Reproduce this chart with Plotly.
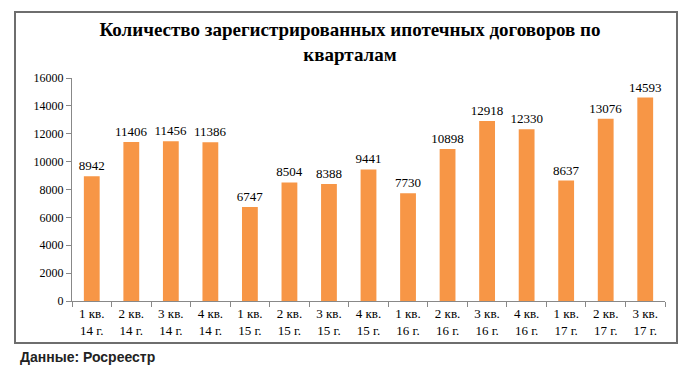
import plotly.graph_objects as go

categories = ["1 кв.<br>14 г.", "2 кв.<br>14 г.", "3 кв.<br>14 г.", "4 кв.<br>14 г.",
              "1 кв.<br>15 г.", "2 кв.<br>15 г.", "3 кв.<br>15 г.", "4 кв.<br>15 г.",
              "1 кв.<br>16 г.", "2 кв.<br>16 г.", "3 кв.<br>16 г.", "4 кв.<br>16 г.",
              "1 кв.<br>17 г.", "2 кв.<br>17 г.", "3 кв.<br>17 г."]
values = [8942, 11406, 11456, 11386, 6747, 8504, 8388, 9441, 7730, 10898, 12918, 12330, 8637, 13076, 14593]
y_ticks = [0, 2000, 4000, 6000, 8000, 10000, 12000, 14000, 16000]
y_tick_labels = [str(v) for v in y_ticks]

serif = "Liberation Serif, Times New Roman, serif"

fig = go.Figure(go.Bar(
    x=categories, y=values,
    marker=dict(color="#F79646", line=dict(width=0)),
    text=[str(v) for v in values], textposition="outside",
    outsidetextfont=dict(family=serif, size=13, color="#000"),
    textfont=dict(family=serif, size=13, color="#000"),
    constraintext="none",
    cliponaxis=False, width=0.4,
))

# page body has an 8px margin; compensate so the rendered page matches
OFF = 8
W, H = 699, 376
L, R, T, B = 72 - OFF, 699 - 665 + OFF, 78 - OFF, 376 - 301 + OFF
pw, ph = W - L - R, H - T - B

def px(x): return (x - OFF - L) / pw
def py(y): return (H - B - (y - OFF)) / ph

fig.update_layout(
    width=W, height=H,
    margin=dict(l=L, r=R, t=T, b=B),
    paper_bgcolor="white", plot_bgcolor="white",
    showlegend=False,
    font=dict(family=serif, size=12, color="#000"),
    title=dict(text="<b>Количество зарегистрированных ипотечных договоров по<br>кварталам</b>",
               x=(350 - OFF) / W, xref="container", xanchor="center",
               y=1 - 28 / H, yref="container", yanchor="top",
               font=dict(family=serif, size=19, color="#000")),
    xaxis=dict(showline=True, linecolor="#888", linewidth=1, ticks="outside", ticklen=5,
               tickcolor="#888", tickson="boundaries", showgrid=False,
               tickfont=dict(family=serif, size=13, color="#000")),
    yaxis=dict(range=[0, 16000], tickvals=y_ticks, ticktext=y_tick_labels, showline=True,
               linecolor="#888", linewidth=1, ticks="outside", ticklen=5, tickcolor="#888",
               showgrid=False, zeroline=False, tickfont=dict(family=serif, size=12, color="#000")),
    shapes=[dict(type="rect", xref="paper", yref="paper",
                 x0=px(15), x1=px(677), y0=py(343), y1=py(12),
                 line=dict(color="#6e6e6e", width=2), fillcolor="rgba(0,0,0,0)", layer="above")],
    annotations=[
        dict(text="<b>Данные: Росреестр</b>", xref="paper", yref="paper",
             x=px(18), y=py(357), xanchor="left", yanchor="middle", showarrow=False,
             font=dict(family="Liberation Sans, Arial, sans-serif", size=14, color="#222")),
    ],
)

fig.write_html("out.html")
